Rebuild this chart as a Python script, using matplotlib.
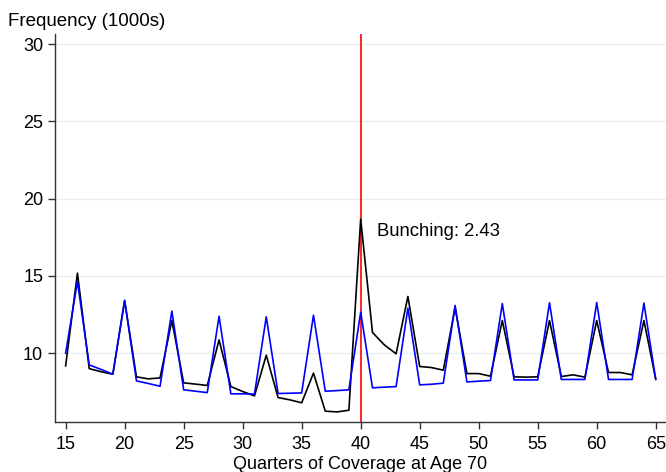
import numpy as np
import matplotlib
matplotlib.use("Agg")
import matplotlib.pyplot as plt

plt.rcParams['font.family'] = ['Liberation Sans', 'DejaVu Sans']

# quarters of coverage at age 70
quarters = np.arange(15, 66)

# observed frequency (1000s)
observed = [9.18, 15.18, 9.0, 8.8, 8.64, 13.41, 8.47, 8.34, 8.40, 12.11,
            8.08, 8.0, 7.91, 10.86, 7.84, 7.52, 7.24, 9.87, 7.13, 6.98,
            6.79, 8.71, 6.25, 6.2, 6.31, 18.67, 11.34, 10.54, 9.96, 13.67,
            9.14, 9.07, 8.9, 12.95, 8.68, 8.68, 8.51, 12.11, 8.47, 8.45,
            8.47, 12.11, 8.49, 8.6, 8.45, 12.11, 8.75, 8.75, 8.6, 12.11,
            8.32]

# counterfactual frequency (1000s)
counterfactual = [10.0, 14.64, 9.24, 8.95, 8.64, 13.41, 8.21, 8.04, 7.86, 12.72,
                  7.63, 7.54, 7.45, 12.39, 7.37, 7.37, 7.35, 12.35, 7.39, 7.41,
                  7.43, 12.46, 7.54, 7.58, 7.63, 12.65, 7.76, 7.8, 7.84, 12.91,
                  7.95, 7.99, 8.06, 13.09, 8.14, 8.19, 8.23, 13.21, 8.27, 8.27,
                  8.27, 13.26, 8.3, 8.3, 8.3, 13.28, 8.3, 8.3, 8.3, 13.24,
                  8.3]

threshold = 40
bunching = 2.43

fig = plt.figure(figsize=(6.66, 4.72), dpi=100)
ax = fig.add_axes([0.0826, 0.106, 0.9174, 0.822])

ax.axvline(threshold, color='red', lw=1.2, zorder=2)
ax.plot(quarters, observed, color='black', lw=1.2, zorder=3)
ax.plot(quarters, counterfactual, color='blue', lw=1.2, zorder=4)

ax.text(41.4, 17.87, f'Bunching: {bunching:.2f}', fontsize=13.3,
        ha='left', va='center')

ax.set_xlim(14.1, 65.87)
ax.set_ylim(5.55, 30.65)
ax.set_xticks(np.arange(15, 66, 5))
ax.set_yticks([10, 15, 20, 25, 30])
ax.grid(axis='y', color='#e9f0f2', lw=1.0, zorder=0)
ax.set_axisbelow(True)

for side in ['top', 'right']:
    ax.spines[side].set_visible(False)
for side in ['left', 'bottom']:
    ax.spines[side].set_color('#333333')
    ax.spines[side].set_linewidth(1.0)
ax.tick_params(labelsize=13, length=5, width=1.0, color='#333333', pad=3.5)
ax.tick_params(axis='x', pad=5)

ax.set_xlabel('Quarters of Coverage at Age 70', fontsize=13, labelpad=2)
fig.text(0.012, 0.955, 'Frequency (1000s)', fontsize=13.5, ha='left', va='center')

fig.savefig('out.png', dpi=100)
